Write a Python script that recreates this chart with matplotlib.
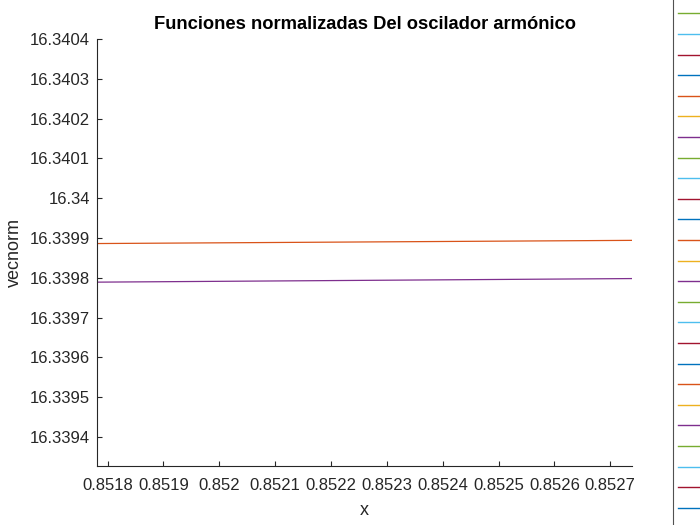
import numpy as np
import matplotlib
matplotlib.use("Agg")
import matplotlib.pyplot as plt
from matplotlib.lines import Line2D

plt.rcParams['font.family'] = ['Liberation Sans', 'DejaVu Sans']

# datos
x = [0.851781, 0.852739]
y_naranja = [16.339886, 16.339894]
y_morado = [16.339789, 16.339798]

xticks = [0.8518, 0.8519, 0.852, 0.8521, 0.8522, 0.8523, 0.8524, 0.8525, 0.8526, 0.8527]
xticklabels = ['0.8518', '0.8519', '0.852', '0.8521', '0.8522', '0.8523', '0.8524', '0.8525', '0.8526', '0.8527']
yticks = [16.3394, 16.3395, 16.3396, 16.3397, 16.3398, 16.3399, 16.34, 16.3401, 16.3402, 16.3403, 16.3404]
yticklabels = ['16.3394', '16.3395', '16.3396', '16.3397', '16.3398', '16.3399', '16.34',
               '16.3401', '16.3402', '16.3403', '16.3404']

colores = ['#0072BD', '#D95319', '#EDB120', '#7E2F8E', '#77AC30', '#4DBEEE', '#A2142F']
n_leyenda = 29
# el texto de la leyenda queda fuera de la figura en la original
etiquetas = ['' for i in range(n_leyenda)]

fig = plt.figure(figsize=(7, 5.25), dpi=100)
ax = fig.add_axes([97 / 700, 1 - 466 / 525, (632 - 97) / 700, (466 - 39) / 525])

ax.plot(x, y_naranja, color=colores[1], lw=0.9)
ax.plot(x, y_morado, color=colores[3], lw=0.9)

ax.set_xlim(x[0], x[1])
ax.set_ylim(16.339327, 16.3404)
ax.set_xticks(xticks)
ax.set_xticklabels(xticklabels)
ax.set_yticks(yticks)
ax.set_yticklabels(yticklabels)
ax.tick_params(direction='in', length=3.3, width=0.8, labelsize=12, colors='#262626',
               labelcolor='#262626')
ax.tick_params(axis='x', pad=9)
ax.tick_params(axis='y', pad=5)
ax.spines['top'].set_visible(False)
ax.spines['right'].set_visible(False)
for s in ['left', 'bottom']:
    ax.spines[s].set_color('#262626')
    ax.spines[s].set_linewidth(0.8)

ax.set_xlabel('x', fontsize=13, color='#262626', labelpad=6)
ax.set_ylabel('vecnorm', fontsize=13, color='#262626', labelpad=5)
ax.set_title('Funciones normalizadas Del oscilador armónico', fontsize=13.2, fontweight='bold', pad=7)

handles = [Line2D([0], [0], color=colores[(i + 2) % 7], lw=1) for i in range(n_leyenda)]
leg = fig.legend(handles, etiquetas, loc='center left', bbox_to_anchor=(673 / 700, 0.5 + 1 / 525),
                 fontsize=10, frameon=True, fancybox=False, borderpad=0.35,
                 handlelength=2.2, labelspacing=0.475, borderaxespad=0)
leg.get_frame().set_edgecolor('#262626')
leg.get_frame().set_linewidth(0.8)

fig.savefig('out.png', dpi=100)
